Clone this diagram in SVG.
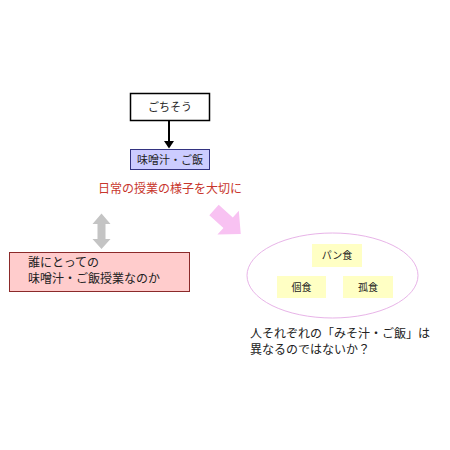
<svg xmlns="http://www.w3.org/2000/svg" width="450" height="450" viewBox="0 0 450 450">
<defs>
<style>
text{font-family:"Noto Sans CJK JP","Noto Sans CJK SC",sans-serif;fill:#222}
.c{text-anchor:middle}
.s{font-size:10px}
.m{font-size:11px}
.l{font-size:12px}
.y{fill:#ffffc4;stroke:none}
</style>
</defs>
<rect width="450" height="450" fill="#fff"/>
<g id="connectors">
<line x1="169" y1="120" x2="169" y2="142" stroke="#000" stroke-width="2"/>
<polygon points="164,141 174,141 169,148.5" fill="#000"/>
<polygon points="101.5,213.5 110.5,224 105.5,224 105.5,239 110.5,239 101.5,249 92.5,239 97.5,239 97.5,224 92.5,224" fill="#c4c4c4"/>
<polygon transform="translate(214,210) rotate(42)" points="0,-7 19,-7 19,-16 36,0 19,16 19,7 0,7" fill="#f8c2f2"/>
</g>
<g id="gochisou">
<rect x="130.5" y="93.5" width="79" height="27" fill="#fff" stroke="#000" stroke-width="1.5"/>
<text class="c m" x="170" y="110.5">ごちそう</text>
</g>
<g id="misoshiru">
<rect x="130.5" y="149.5" width="79" height="20" fill="#ccccff" stroke="#333380" stroke-width="1"/>
<text class="c m" x="170" y="163.5">味噌汁・ご飯</text>
</g>
<g id="nichijou">
<text class="c l" x="170" y="193" style="fill:#c8362c">日常の授業の様子を大切に</text>
</g>
<g id="dare">
<rect x="9.5" y="252.5" width="180" height="39" fill="#ffcccc" stroke="#8b2a2a" stroke-width="1"/>
<text class="l" x="28" y="267">誰にとっての</text>
<text class="l" x="28" y="283">味噌汁・ご飯授業なのか</text>
</g>
<g id="group">
<ellipse cx="332.5" cy="275.5" rx="85.5" ry="42.5" fill="#fff" stroke="#e8b4e8" stroke-width="1"/>
</g>
<g id="pan">
<rect class="y" x="312" y="244" width="50" height="23"/>
<text class="c s" x="337" y="259">パン食</text>
</g>
<g id="koshoku1">
<rect class="y" x="277" y="276" width="49" height="22"/>
<text class="c s" x="301.5" y="291">個食</text>
</g>
<g id="koshoku2">
<rect class="y" x="343" y="276" width="50" height="22"/>
<text class="c s" x="368" y="291">孤食</text>
</g>
<g id="hitosorezore">
<text class="l" x="250" y="338">人それぞれの「みそ汁・ご飯」は</text>
<text class="l" x="250" y="354">異なるのではないか？</text>
</g>
</svg>
